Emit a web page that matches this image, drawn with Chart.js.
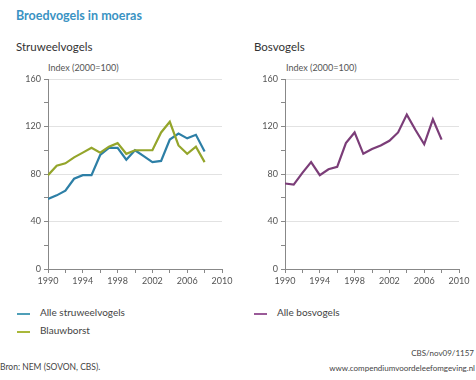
<!DOCTYPE html>
<html>
<head>
<meta charset="utf-8">
<script src="https://cdn.jsdelivr.net/npm/chart.js@4"></script>
<style>
  body { margin: 0; width: 476px; height: 380px; background: #fff; position: relative; overflow: hidden; font-family: Lato, "Open Sans", sans-serif; }
  .txt { position: absolute; white-space: nowrap; }
  #title { left: 16px; top: 8px; font-size: 12.5px; font-weight: bold; color: #3a93c3; }
  .sub { top: 40px; font-size: 11.5px; color: #333; }
  .unit { top: 62px; font-size: 9px; color: #555; }
  .cv { position: absolute; top: 70px; width: 236px; height: 230px; }
  .leg { font-size: 10px; color: #444; }
  .sw { position: absolute; width: 13px; height: 2px; }
  .foot { font-size: 8.5px; color: #444; }
</style>
</head>
<body>
<div id="title" class="txt">Broedvogels in moeras</div>
<div class="txt sub" style="left:16px">Struweelvogels</div>
<div class="txt sub" style="left:254px">Bosvogels</div>
<div class="txt unit" style="left:48px">Index (2000=100)</div>
<div class="txt unit" style="left:286px">Index (2000=100)</div>
<div class="cv" style="left:0px"><canvas id="c1"></canvas></div>
<div class="cv" style="left:240px"><canvas id="c2"></canvas></div>
<div id="legend"></div>
<div class="txt foot" style="left:0px; top:362px">Bron: NEM (SOVON, CBS).</div>
<div class="txt foot" style="right:2px; top:348px; font-size:8px">CBS/nov09/1157</div>
<div class="txt foot" style="right:1px; top:363px; font-size:8px">www.compendiumvoordeleefomgeving.nl</div>
<script>
const years = [1990,1991,1992,1993,1994,1995,1996,1997,1998,1999,2000,2001,2002,2003,2004,2005,2006,2007,2008];
const struweelvogels = [59,62,66,76,79,79,96,102,102,92,100,95,90,91,109,114,110,113,99];
const blauwborst = [79,87,89,94,98,102,98,103,106,97,100,100,100,115,124,104,97,103,90];
const bosvogels = [72,71,81,90,79,84,86,106,115,97,101,104,108,115,130,117,105,126,109];
const yTicks = [0,40,80,120,160];
const xTickLabels = [1990,1994,1998,2002,2006,2010];

function pts(vals) { return years.map((y, i) => ({x: y, y: vals[i]})); }

function makeChart(id, datasets, yWidth, padRight) {
  new Chart(document.getElementById(id), {
    type: 'line',
    data: { datasets: datasets.map(d => ({
      label: d.label, data: pts(d.values), borderColor: d.color, borderWidth: 2.2,
      pointRadius: 0, tension: 0, fill: false
    })) },
    options: {
      responsive: true, maintainAspectRatio: false, animation: false,
      layout: { padding: { top: 9, right: padRight, left: 0, bottom: 0 } },
      plugins: { legend: { display: false }, tooltip: { enabled: false } },
      scales: {
        x: {
          type: 'linear', min: 1990, max: 2010,
          afterFit: s => { s.height = 31; },
          ticks: { stepSize: 2, autoSkip: false, maxRotation: 0, color: '#555', padding: 3,
            font: { family: 'Lato', size: 9 },
            callback: v => xTickLabels.includes(v) ? String(v) : '' },
          grid: { color: 'rgba(0,0,0,0)', tickColor: '#888', tickLength: 4 },
          border: { color: '#888', width: 1 }
        },
        y: {
          min: 0, max: 160,
          afterFit: s => { s.width = yWidth; },
          ticks: { stepSize: 20, color: '#555', padding: 3,
            font: { family: 'Lato', size: 9 },
            callback: v => yTicks.includes(v) ? String(v) : '' },
          grid: { color: c => (c.tick && c.tick.value % 40 === 0 && c.tick.value > 0) ? '#e2e2e2' : 'rgba(0,0,0,0)',
                  tickColor: '#888', tickLength: 4 },
          border: { color: '#888', width: 1 }
        }
      }
    }
  });
}

const blue = '#2d7fa6', green = '#94a52b', purple = '#7b3d78';
makeChart('c1', [
  { label: 'Blauwborst', values: blauwborst, color: green },
  { label: 'Alle struweelvogels', values: struweelvogels, color: blue }
], 48, 14);
makeChart('c2', [
  { label: 'Alle bosvogels', values: bosvogels, color: purple }
], 45, 17);

const legendItems = [
  { label: 'Alle struweelvogels', color: '#4f9fb8', x: 17, y: 313 },
  { label: 'Blauwborst', color: '#a9b83a', x: 17, y: 331 },
  { label: 'Alle bosvogels', color: '#9a5a98', x: 254, y: 313 }
];
const lg = document.getElementById('legend');
legendItems.forEach(it => {
  const sw = document.createElement('div');
  sw.className = 'sw';
  sw.style.cssText = `left:${it.x}px; top:${it.y}px; background:${it.color}`;
  lg.appendChild(sw);
  const t = document.createElement('div');
  t.className = 'txt leg';
  t.style.cssText = `left:${it.x + 23}px; top:${it.y - 7}px`;
  t.textContent = it.label;
  lg.appendChild(t);
});
</script>
</body>
</html>
